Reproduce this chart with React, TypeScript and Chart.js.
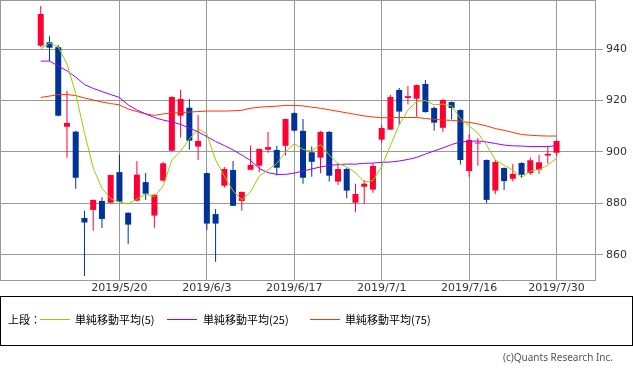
import React, { useEffect, useRef } from "react";
import { Chart, registerables } from "chart.js";

Chart.register(...registerables);

const dates = [
  "2019/5/7", "2019/5/8", "2019/5/9", "2019/5/10", "2019/5/13", "2019/5/14", "2019/5/15", "2019/5/16", "2019/5/17",
  "2019/5/20", "2019/5/21", "2019/5/22", "2019/5/23", "2019/5/24", "2019/5/27", "2019/5/28", "2019/5/29", "2019/5/30", "2019/5/31",
  "2019/6/3", "2019/6/4", "2019/6/5", "2019/6/6", "2019/6/7", "2019/6/10", "2019/6/11", "2019/6/12", "2019/6/13", "2019/6/14",
  "2019/6/17", "2019/6/18", "2019/6/19", "2019/6/20", "2019/6/21", "2019/6/24", "2019/6/25", "2019/6/26", "2019/6/27", "2019/6/28",
  "2019/7/1", "2019/7/2", "2019/7/3", "2019/7/4", "2019/7/5", "2019/7/8", "2019/7/9", "2019/7/10", "2019/7/11", "2019/7/12",
  "2019/7/16", "2019/7/17", "2019/7/18", "2019/7/19", "2019/7/22", "2019/7/23", "2019/7/24", "2019/7/25", "2019/7/26",
  "2019/7/29", "2019/7/30",
];

const tickDates = ["2019/5/20", "2019/6/3", "2019/6/17", "2019/7/1", "2019/7/16", "2019/7/30"];
const yTicks = [860, 880, 900, 920, 940];

const open = [
  941.3, 942.6, 940.7, 909.8, 907.9, 874.4, 877.5, 881.0, 880.3, 892.2,
  876.4, 881.1, 888.3, 875.3, 888.9, 900.5, 914.1, 917.2, 902.1, 891.8,
  875.9, 886.9, 893.0, 881.0, 893.1, 894.7, 900.9, 900.8, 902.4, 915.1,
  908.2, 899.9, 897.8, 907.8, 888.5, 893.4, 880.3, 886.5, 885.4, 904.8,
  908.7, 924.1, 921.0, 920.7, 926.4, 917.1, 909.4, 919.4, 916.3, 892.6,
  903.3, 896.9, 885.0, 893.8, 889.6, 895.7, 891.8, 893.1, 898.6, 899.7,
];
const high = [
  956.7, 945.0, 941.6, 923.7, 908.3, 877.2, 881.6, 882.4, 891.1, 899.0,
  876.6, 896.5, 891.8, 883.6, 896.2, 921.6, 924.2, 920.6, 914.4, 892.0,
  877.9, 894.2, 896.5, 884.7, 902.4, 901.4, 907.8, 902.4, 913.0, 915.5,
  912.8, 902.1, 908.2, 908.2, 895.5, 893.8, 887.7, 889.1, 895.6, 910.5,
  922.1, 924.9, 925.6, 926.2, 928.0, 917.7, 920.7, 919.6, 916.5, 907.0,
  905.4, 897.1, 896.9, 894.0, 895.3, 896.0, 897.9, 898.8, 902.4, 904.5,
];
const low = [
  940.8, 935.3, 913.9, 897.8, 885.7, 851.8, 869.4, 870.5, 880.1, 880.5,
  864.3, 880.8, 881.4, 870.6, 888.5, 900.3, 905.6, 900.9, 896.9, 869.7,
  857.4, 886.1, 879.0, 877.2, 893.0, 892.1, 899.7, 890.9, 898.6, 908.0,
  887.7, 890.4, 891.7, 888.5, 887.2, 882.0, 876.6, 879.8, 884.2, 903.6,
  908.5, 910.6, 918.4, 913.7, 915.3, 908.3, 907.9, 912.7, 895.1, 890.4,
  894.7, 880.2, 883.7, 885.2, 888.5, 890.0, 891.2, 891.6, 895.5, 898.6,
];
const close = [
  953.6, 940.5, 914.1, 911.3, 890.0, 872.6, 881.4, 874.0, 891.1, 880.7,
  871.8, 891.2, 883.8, 883.4, 895.6, 921.4, 920.6, 904.4, 904.3, 872.2,
  872.2, 893.4, 879.1, 884.5, 895.0, 901.2, 901.9, 893.9, 912.8, 908.3,
  890.0, 896.2, 907.8, 890.8, 893.4, 885.0, 883.7, 887.7, 894.6, 909.3,
  921.4, 915.7, 921.7, 926.0, 915.5, 911.4, 920.2, 917.1, 896.9, 904.7,
  903.6, 881.4, 896.1, 888.7, 891.5, 891.2, 896.8, 896.0, 899.3, 904.3,
];

const ma5 = [
  940.0, 942.3, 940.8, 934.2, 922.7, 907.5, 893.8, 885.9, 881.9, 880.6,
  879.8, 881.7, 883.7, 882.7, 886.8, 896.9, 900.4, 905.0, 909.1, 907.0,
  896.9, 890.7, 884.9, 881.4, 884.5, 890.7, 893.0, 895.5, 900.0, 903.3,
  901.0, 900.4, 902.9, 898.8, 895.5, 894.2, 892.0, 888.3, 888.9, 894.4,
  902.5, 910.5, 916.3, 919.6, 920.0, 918.3, 918.6, 917.9, 913.0, 910.1,
  907.4, 902.7, 896.9, 894.8, 893.0, 890.1, 892.6, 893.2, 894.9, 897.6,
];
const ma25 = [
  935.3, 935.3, 933.4, 931.5, 929.1, 926.2, 924.7, 923.5, 922.3, 921.2,
  918.3, 916.3, 914.8, 913.4, 912.4, 911.7, 910.7, 909.3, 907.8, 906.0,
  904.1, 902.5, 900.8, 898.8, 896.7, 893.6, 892.0, 891.3, 891.3, 891.8,
  892.6, 893.4, 894.2, 894.8, 895.1, 895.3, 895.3, 895.6, 895.7, 896.0,
  896.1, 896.5, 897.1, 897.9, 899.2, 900.4, 901.6, 902.9, 903.9, 904.1,
  904.3, 903.9, 903.3, 902.7, 902.4, 902.3, 902.1, 902.1, 902.1, 902.5,
];
const ma75 = [
  921.2, 921.7, 922.3, 922.3, 921.9, 921.0, 920.2, 919.4, 918.8, 918.3,
  916.7, 915.7, 914.8, 914.2, 914.8, 915.1, 915.3, 915.5, 915.7, 915.9,
  915.9, 915.9, 916.0, 916.2, 917.0, 917.4, 917.6, 917.8, 918.1, 918.1,
  917.9, 917.4, 917.0, 916.4, 915.8, 915.2, 914.6, 914.0, 913.6, 913.3,
  913.3, 913.4, 913.4, 913.4, 913.0, 912.7, 912.4, 912.3, 911.9, 911.5,
  910.9, 910.1, 909.1, 908.4, 907.6, 906.8, 906.5, 906.3, 906.2, 906.2,
];

const legendLabels = ["単純移動平均(5)", "単純移動平均(25)", "単純移動平均(75)"];

const UP = "#ff0033";
const DOWN = "#003399";
const C5 = "#99cc00";
const C25 = "#9900ff";
const C75 = "#ff3300";
const GRID = "#999999";

const framePlugin = {
  id: "frame",
  beforeDatasetsDraw(chart: any) {
    const { ctx, chartArea } = chart;
    const { left, top, right, bottom } = chartArea;
    ctx.save();
    ctx.strokeStyle = GRID;
    ctx.lineWidth = 1;
    ctx.strokeRect(left + 0.5, top + 0.5, right - left, bottom - top);
    ctx.restore();
  },
};

export default function App() {
  const ref = useRef<HTMLCanvasElement | null>(null);

  useEffect(() => {
    if (!ref.current) return;
    const colors = open.map((o, i) => (close[i] >= o ? UP : DOWN));
    const tickIdx = tickDates.map((d) => dates.indexOf(d));
    const lineDs = (vals: number[], color: string) =>
      ({
        type: "line",
        data: vals.map((v, i) => ({ x: i, y: v })),
        borderColor: color,
        borderWidth: 1,
        pointRadius: 0,
        tension: 0,
        order: 0,
      } as any);
    const chart = new Chart(ref.current, {
      type: "bar",
      data: {
        datasets: [
          lineDs(ma5, C5),
          lineDs(ma25, C25),
          lineDs(ma75, C75),
          {
            type: "bar",
            data: open.map((o, i) => ({ x: i, y: [o, close[i]] })),
            backgroundColor: colors,
            borderWidth: 0,
            barThickness: 6,
            grouped: false,
            inflateAmount: 0,
            minBarLength: 1,
            order: 1,
          } as any,
          {
            type: "bar",
            data: low.map((l, i) => ({ x: i, y: [l, high[i]] })),
            backgroundColor: colors,
            borderWidth: 0,
            barThickness: 1,
            grouped: false,
            inflateAmount: 0,
            order: 2,
          } as any,
        ],
      },
      options: {
        animation: false,
        responsive: false,
        maintainAspectRatio: false,
        layout: { padding: 0 },
        plugins: {
          legend: { display: false },
          tooltip: { enabled: false },
        },
        font: { family: "DejaVu Sans", size: 11 },
        scales: {
          x: {
            type: "linear",
            offset: false,
            min: -4.66,
            max: 63.4,
            grid: { color: GRID, drawTicks: false, offset: false },
            border: { color: GRID },
            afterBuildTicks: (scale: any) => {
              scale.ticks = tickIdx.map((v) => ({ value: v }));
            },
            afterFit: (scale: any) => {
              scale.height = 20;
              scale.paddingLeft = 0;
              scale.paddingRight = 0;
            },
            ticks: {
              autoSkip: false,
              maxRotation: 0,
              padding: 2,
              color: "#333",
              font: { family: "DejaVu Sans", size: 11 },
              callback: (v: any) => {
                const k = tickIdx.indexOf(Number(v));
                return k >= 0 ? tickDates[k] : "";
              },
            },
          },
          y: {
            type: "linear",
            position: "right",
            min: 850.29,
            max: 959.03,
            grid: { color: GRID, tickLength: 8 },
            border: { color: GRID },
            afterBuildTicks: (scale: any) => {
              scale.ticks = yTicks.map((v) => ({ value: v }));
            },
            afterFit: (scale: any) => {
              scale.width = 38;
              scale.paddingTop = 0;
              scale.paddingBottom = 0;
            },
            ticks: {
              padding: 3,
              color: "#333",
              font: { family: "DejaVu Sans", size: 11 },
            },
          },
        },
      } as any,
      plugins: [framePlugin],
    });
    return () => chart.destroy();
  }, []);

  const legendColors = [C5, C25, C75];
  const lineLefts = [40, 167, 310];
  const textLefts = [75, 203, 345];

  return (
    <div
      style={{
        position: "absolute",
        left: 0,
        top: 0,
        width: 633,
        height: 371,
        background: "#fff",
        overflow: "hidden",
      }}
    >
      <canvas ref={ref} width={633} height={300} style={{ position: "absolute", left: 0, top: 0, width: 633, height: 300 }} />
      <div
        style={{
          position: "absolute",
          left: 0,
          top: 296,
          width: 633,
          height: 50,
          boxSizing: "border-box",
          border: "1px solid #000",
        }}
      />
      <div
        style={{
          position: "absolute",
          left: 8,
          top: 311,
          height: 16,
          lineHeight: "16px",
          fontFamily: "'Noto Sans CJK JP', sans-serif",
          fontSize: 11,
          color: "#000",
          whiteSpace: "nowrap",
        }}
      >
        上段：
      </div>
      {legendLabels.map((t, i) => (
        <React.Fragment key={t}>
          <div
            style={{
              position: "absolute",
              left: lineLefts[i],
              top: 319,
              width: 30,
              height: 1,
              background: legendColors[i],
            }}
          />
          <div
            style={{
              position: "absolute",
              left: textLefts[i],
              top: 311,
              height: 16,
              lineHeight: "16px",
              fontFamily: "'Noto Sans CJK JP', sans-serif",
              fontSize: 11,
              color: "#000",
              whiteSpace: "nowrap",
            }}
          >
            {t}
          </div>
        </React.Fragment>
      ))}
      <div
        style={{
          position: "absolute",
          right: 20,
          top: 350,
          height: 14,
          lineHeight: "14px",
          fontFamily: "'Noto Sans', sans-serif",
          fontSize: 10,
          color: "#555",
          whiteSpace: "nowrap",
        }}
      >
        (c)Quants Research Inc.
      </div>
    </div>
  );
}
